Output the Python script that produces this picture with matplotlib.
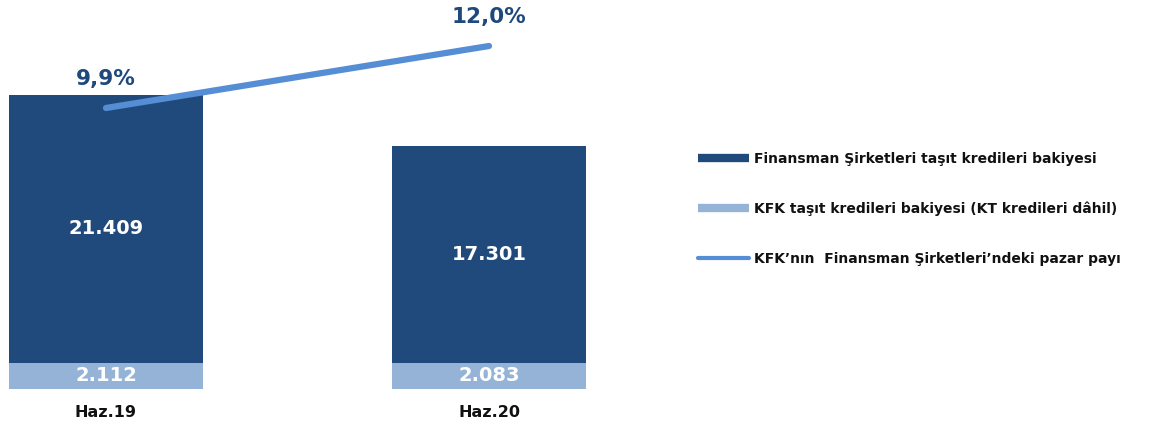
import matplotlib
matplotlib.use("Agg")
import matplotlib.pyplot as plt
from matplotlib.lines import Line2D

# data
periods = ["Haz.19", "Haz.20"]
kfk = [2.112, 2.083]              # KFK taşıt kredileri bakiyesi
fin_total = [21.409, 17.301]      # Finansman Şirketleri taşıt kredileri bakiyesi
share = [9.9, 12.0]               # KFK'nın pazar payı (%)
kfk_lbl = ["2.112", "2.083"]
fin_lbl = ["21.409", "17.301"]
share_lbl = ["9,9%", "12,0%"]

c_dark = "#214A7C"
c_light = "#95B3D7"
c_line = "#558ED5"
c_txt = "#1F497D"

fig = plt.figure(figsize=(11.49, 4.30), dpi=100)
W, H = 1149, 430
ax = fig.add_axes([0, (H - 389) / H, 640 / W, (389 - 10) / H])
x = [0, 1]
ax.bar(x, kfk, width=0.507, color=c_light)
ax.bar(x, fin_total, width=0.507, bottom=kfk, color=c_dark)
ax.set_xlim(-106 / 383, 534 / 383)
ax.set_ylim(0, 379 / 12.52)
ax.axis("off")

for i in x:
    ax.text(i, kfk[i] / 2, kfk_lbl[i], color="white", fontsize=14,
            fontweight="bold", ha="center", va="center")
    ax.text(i, kfk[i] + fin_total[i] / 2, fin_lbl[i], color="white",
            fontsize=14, fontweight="bold", ha="center", va="center")
    ax.text(i, -1.3, periods[i], color="#111111", fontsize=11.5,
            fontweight="bold", ha="center", va="top")

ax2 = ax.twinx()
ax2.plot(x, share, color=c_line, lw=4.5, solid_capstyle="round")
ax2.set_ylim(9.9 - 281 / 29.52, 12.0 + 36 / 29.52)
ax2.axis("off")
for i in x:
    ax2.annotate(share_lbl[i], (i, share[i]), xytext=(0, 21),
                 textcoords="offset points", ha="center", va="center",
                 color=c_txt, fontsize=15.5, fontweight="bold")

handles = [Line2D([], [], color=c_dark, lw=6, solid_capstyle="butt"),
           Line2D([], [], color=c_light, lw=6, solid_capstyle="butt"),
           Line2D([], [], color=c_line, lw=3, solid_capstyle="round")]
labels = ["Finansman Şirketleri taşıt kredileri bakiyesi",
          "KFK taşıt kredileri bakiyesi (KT kredileri dâhil)",
          "KFK’nın  Finansman Şirketleri’ndeki pazar payı"]
leg = fig.legend(handles, labels, loc="upper left",
                 bbox_to_anchor=(685 / W, 1 - 139 / H), frameon=False,
                 prop={"weight": "bold", "size": 10},
                 handlelength=3.7, handletextpad=0.4, labelspacing=2.6)
for t in leg.get_texts():
    t.set_color("#111111")

fig.savefig("out.png", dpi=100)
